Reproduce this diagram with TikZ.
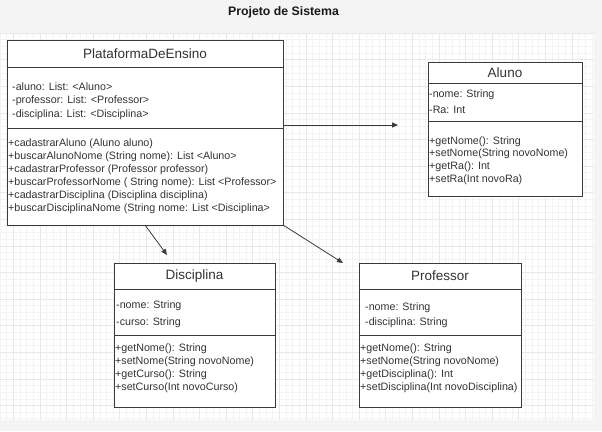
\documentclass[tikz,border=0pt]{standalone}
\usepackage{fontspec}
\setmainfont{Liberation Sans}
\usetikzlibrary{arrows.meta,positioning}
\definecolor{pagegray}{HTML}{F4F4F4}
\definecolor{gridminor}{HTML}{F3F3F3}
\definecolor{gridmajor}{HTML}{E8E8E8}
\definecolor{ink}{HTML}{333333}
\definecolor{edge}{HTML}{3A3A3A}

\begin{document}
\begin{tikzpicture}[x=1pt,y=-1pt,
     box/.style = {draw=edge, line width=0.9pt, fill=white, inner sep=0pt, outer sep=0pt},
     classname/.style = {font=\fontsize{13.5}{16}\selectfont, text=ink},
     member/.style = {anchor=north west, align=left, inner sep=0pt, text=ink},
     arrow/.style = {draw=edge, line width=0.8pt, -{Triangle[length=6pt,width=5pt]}}
    ]
    % page and grid
    \useasboundingbox (0,0) rectangle (602,431);
    \fill[pagegray] (0,0) rectangle (602,431);
    \fill[white] (0,33) rectangle (594,420);
    \foreach \m in {0,...,89}
      \draw[gridminor, line width=0.5pt] ({6.65*\m},33) -- ({6.65*\m},420);
    \foreach \m in {0,...,58}
      \draw[gridminor, line width=0.5pt] (0,{33+6.65*\m}) -- (594,{33+6.65*\m});
    \foreach \m in {0,...,21}
      \draw[gridmajor, line width=0.5pt] ({13.3+26.6*\m},33) -- ({13.3+26.6*\m},420);
    \foreach \m in {0,...,14}
      \draw[gridmajor, line width=0.5pt] (0,{33+26.6*\m}) -- (594,{33+26.6*\m});

    \node[font=\bfseries\fontsize{12.3}{14}\selectfont, text=black!90] (heading) at (283.5,12) {Projeto de Sistema};

    % PlataformaDeEnsino
    \node[box, classname, anchor=north west, minimum width=276pt, minimum height=27pt] (plat) at (7,40) {PlataformaDeEnsino};
    \node[box, minimum width=276pt, minimum height=61pt, below=0pt of plat] (plat-attr) {};
    \node[box, minimum width=276pt, minimum height=97pt, below=0pt of plat-attr] (plat-meth) {};
    \node[member, font=\fontsize{10.7}{13.5}\selectfont] (plat-attr-txt) at ([shift={(5,15.2)}]plat-attr.north west)
      {-aluno: List: <Aluno>\\-professor: List: <Professor>\\-disciplina: List: <Disciplina>};
    \node[member, font=\fontsize{10.7}{13}\selectfont] (plat-meth-txt) at ([shift={(1,10.2)}]plat-meth.north west)
      {+cadastrarAluno (Aluno aluno)\\+buscarAlunoNome (String nome): List <Aluno>\\+cadastrarProfessor (Professor professor)\\+buscarProfessorNome ( String nome): List <Professor>\\+cadastrarDisciplina (Disciplina disciplina)\\+buscarDisciplinaNome (String nome: List <Disciplina>};

    % Aluno
    \node[box, classname, anchor=north west, minimum width=154pt, minimum height=21pt] (aluno) at (428,62) {Aluno};
    \node[box, minimum width=154pt, minimum height=38pt, below=0pt of aluno] (aluno-attr) {};
    \node[box, minimum width=154pt, minimum height=75pt, below=0pt of aluno-attr] (aluno-meth) {};
    \node[member, font=\fontsize{10.7}{16}\selectfont] (aluno-attr-txt) at ([shift={(1,6.2)}]aluno-attr.north west)
      {-nome: String\\-Ra: Int};
    \node[member, font=\fontsize{10.7}{12.7}\selectfont] (aluno-meth-txt) at ([shift={(1,15.2)}]aluno-meth.north west)
      {+getNome(): String\\+setNome(String novoNome)\\+getRa(): Int\\+setRa(Int novoRa)};

    % Disciplina
    \node[box, classname, anchor=north west, minimum width=161pt, minimum height=26pt] (disc) at (114,263) {Disciplina};
    \node[box, minimum width=161pt, minimum height=46pt, below=0pt of disc] (disc-attr) {};
    \node[box, minimum width=161pt, minimum height=72pt, below=0pt of disc-attr] (disc-meth) {};
    \node[member, font=\fontsize{10.7}{17}\selectfont] (disc-attr-txt) at ([shift={(2,11.2)}]disc-attr.north west)
      {-nome: String\\-curso: String};
    \node[member, font=\fontsize{10.7}{13}\selectfont] (disc-meth-txt) at ([shift={(1,8.2)}]disc-meth.north west)
      {+getNome(): String\\+setNome(String novoNome)\\+getCurso(): String\\+setCurso(Int novoCurso)};

    % Professor
    \node[box, classname, anchor=north west, minimum width=162pt, minimum height=26pt] (prof) at (359,263) {Professor};
    \node[box, minimum width=162pt, minimum height=46pt, below=0pt of prof] (prof-attr) {};
    \node[box, minimum width=162pt, minimum height=72pt, below=0pt of prof-attr] (prof-meth) {};
    \node[member, font=\fontsize{10.7}{15}\selectfont] (prof-attr-txt) at ([shift={(6,13.2)}]prof-attr.north west)
      {-nome: String\\-disciplina: String};
    \node[member, font=\fontsize{10.7}{13}\selectfont] (prof-meth-txt) at ([shift={(1,8.2)}]prof-meth.north west)
      {+getNome(): String\\+setNome(String novoNome)\\+getDisciplina(): Int\\+setDisciplina(Int novoDisciplina)};

    % associations
    \coordinate (to-aluno) at (398,125);
    \coordinate (to-disc) at (167,255);
    \coordinate (to-prof) at (343,263);
    \draw[arrow] (plat-attr.east |- to-aluno) -- (to-aluno);
    \draw[arrow] (plat-meth.south) -- (to-disc);
    \draw[arrow] (plat-meth.south east) -- (to-prof);
\end{tikzpicture}
\end{document}
